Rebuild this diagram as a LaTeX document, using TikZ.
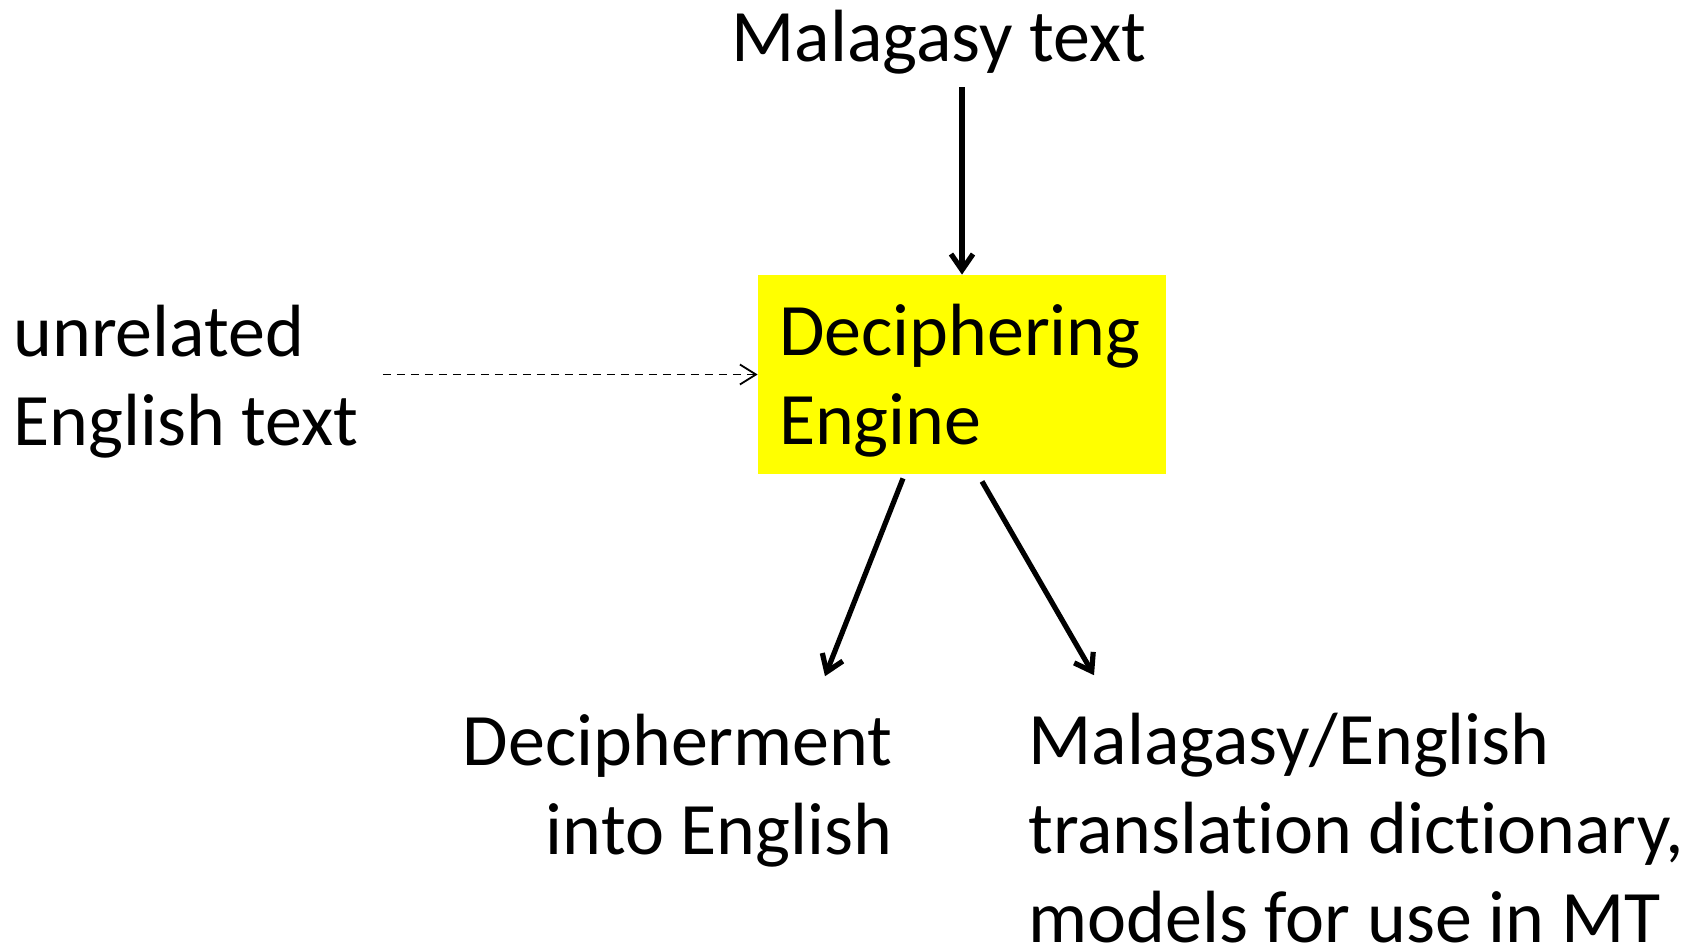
\documentclass[tikz,border=0pt]{standalone}
\usepackage{fontspec}
\setmainfont{Carlito}[Ligatures=NoCommon]
\usetikzlibrary{arrows.meta}
\definecolor{boxyellow}{RGB}{255,255,0}

\begin{document}
\begin{tikzpicture}[x=0.5pt,y=-0.5pt,
  txt/.style={inner sep=0pt,font=\fontsize{37pt}{44.5pt}\selectfont},
  enginebox/.style={txt,fill=boxyellow,minimum width=204pt,minimum height=99.5pt,
    text width=183pt,inner xsep=10.5pt,align=left},
  mainarrow/.style={line width=2.6pt,-{Straight Barb[length=8pt,width=11pt]}},
  hintarrow/.style={line width=0.9pt,dash pattern=on 4pt off 3pt,
    -{Straight Barb[length=8pt,width=10pt]}}]
\useasboundingbox (0,0) rectangle (1702,947);
\node[txt,anchor=base] (maltext) at (939,62) {Malagasy text};
\node[enginebox] (engine) at (962,374.5) {Deciphering\\\smash{Engine}};
\node[txt,anchor=base west,align=left] (unrel) at (13,445) {unrelated\\English text};
\node[txt,anchor=base east,align=right] (decip) at (893,854) {Decipherment\\into English};
\node[txt,anchor=base west,align=left] (dict) at (1028,942) {Malagasy/English\\translation dictionary,\\models for use in MT};
\draw[mainarrow,shorten <=6pt] (engine.north |- maltext.south) -- (engine.north);
\draw[hintarrow,shorten <=12pt] (unrel.east |- engine.west) -- (engine.west);
\draw[mainarrow] ([xshift=-29.5pt,yshift=-2pt]engine.south) -- ([xshift=-34pt,yshift=18.5pt]decip.north east);
\draw[mainarrow] ([xshift=10pt,yshift=-3.5pt]engine.south) -- ([xshift=33pt,yshift=18.5pt]dict.north west);
\end{tikzpicture}
\end{document}
